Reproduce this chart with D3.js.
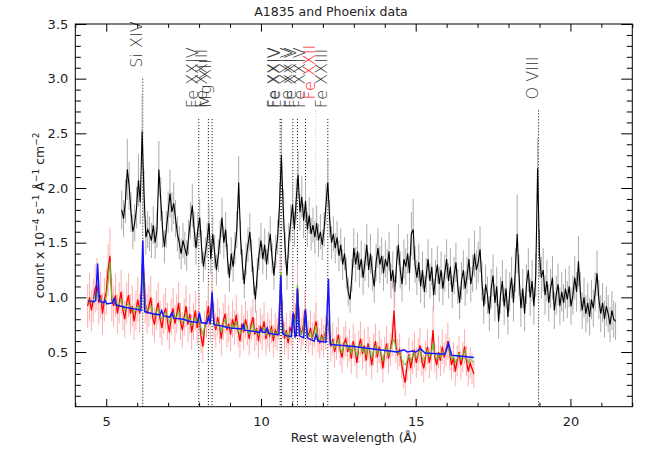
<!DOCTYPE html>
<html lang="en">
<head>
<meta charset="UTF-8">
<title>A1835 and Phoenix data</title>
<script src="https://cdn.jsdelivr.net/npm/d3@7"></script>
<style>
    body { margin: 0; background: #fff; }
    svg text { font-family: "DejaVu Sans", "Liberation Sans", sans-serif; }
</style>
</head>
<body>
<svg width="654" height="455"></svg>
<script>
// black spectrum: bins of blackStep starting at blackStart (Angstrom)
var blackStart = 5.50, blackStep = 0.06;
var blackFlux = [
1.80,1.72,1.88,2.17,2.02,1.78,1.60,1.68,1.82,2.07,
1.87,2.52,1.95,1.55,1.62,1.58,1.52,1.66,1.50,1.62,
2.17,1.90,1.62,1.46,1.62,1.78,1.95,1.78,1.86,1.72,
1.58,1.50,1.40,1.52,1.45,1.38,1.55,1.70,1.84,1.62,
1.45,1.62,1.73,1.46,1.28,1.40,1.52,1.68,1.35,1.58,
1.42,1.25,1.38,1.55,1.73,1.50,1.62,1.35,1.18,1.40,
1.28,1.45,1.62,2.05,1.55,1.30,1.12,1.35,1.48,1.60,
1.38,1.15,0.98,1.22,1.40,1.52,1.35,1.48,1.30,1.45,
1.58,1.36,1.20,1.42,1.55,1.85,2.30,1.80,1.45,1.20,
1.52,1.68,1.85,1.62,1.90,2.12,1.78,1.92,1.70,1.88,
1.62,1.75,1.58,1.66,1.55,1.68,1.52,1.60,1.48,1.62,
1.85,2.05,1.72,1.50,1.58,1.45,1.55,1.38,1.48,1.30,
1.40,1.22,1.05,0.98,1.20,1.45,1.30,1.42,1.25,1.35,
1.18,1.32,1.48,1.25,1.40,1.22,1.10,1.32,1.45,1.30,
1.38,1.22,1.35,1.28,1.42,1.15,1.25,1.05,1.30,1.48,
1.25,1.12,1.35,1.28,1.40,1.22,1.58,1.62,1.30,1.18,
1.32,1.10,1.25,1.05,1.20,1.35,1.15,1.28,1.02,1.18,
1.30,1.12,1.25,1.08,1.22,1.35,1.15,1.28,1.05,1.20,
1.32,1.10,0.95,1.15,1.25,1.08,1.20,1.35,1.12,1.22,
1.40,1.25,1.32,1.44,1.15,0.92,1.12,1.02,0.85,1.08,
1.20,0.95,1.10,0.78,1.02,1.15,0.92,1.08,0.82,1.05,
1.18,0.95,1.25,1.58,1.20,0.90,1.08,0.85,1.12,1.25,
1.00,1.15,0.92,1.20,2.18,1.40,1.18,1.25,1.02,1.15,
0.95,1.08,1.18,0.88,1.02,1.12,0.92,1.05,0.95,1.08,
0.98,1.10,0.92,1.02,1.18,1.05,1.33,1.05,0.88,1.00,
0.85,0.95,0.82,0.98,0.90,1.05,1.22,0.98,0.85,0.95,
0.80,0.92,0.85,0.75,0.88,0.80,0.78];
var blackErr = [
.18,.17,.20,.28,.22,.18,.16,.17,.19,.24,
.20,.34,.22,.16,.17,.16,.16,.17,.15,.17,
.26,.20,.17,.15,.17,.19,.22,.18,.19,.17,
.16,.15,.14,.16,.15,.14,.16,.17,.20,.16,
.15,.16,.17,.15,.14,.15,.16,.17,.14,.16,
.15,.14,.15,.16,.18,.15,.16,.14,.13,.15,
.14,.15,.17,.24,.16,.14,.13,.15,.16,.17,
.15,.13,.12,.14,.15,.16,.14,.15,.14,.15,
.16,.14,.13,.15,.16,.20,.27,.19,.15,.13,
.16,.17,.19,.16,.19,.22,.17,.19,.16,.18,
.16,.17,.15,.16,.15,.16,.15,.16,.14,.16,
.19,.22,.17,.15,.16,.14,.15,.14,.15,.14,
.15,.14,.13,.12,.15,.18,.16,.17,.16,.17,
.16,.17,.19,.16,.18,.16,.15,.17,.18,.17,
.17,.16,.17,.16,.18,.16,.17,.15,.17,.19,
.17,.16,.18,.17,.18,.16,.20,.28,.17,.16,
.17,.15,.17,.15,.16,.18,.16,.17,.15,.16,
.17,.16,.17,.15,.17,.18,.16,.17,.15,.17,
.18,.16,.15,.17,.18,.16,.17,.19,.16,.17,
.21,.18,.19,.21,.18,.16,.18,.17,.16,.18,
.19,.17,.18,.16,.17,.19,.17,.18,.16,.18,
.19,.17,.20,.36,.19,.17,.18,.16,.18,.20,
.17,.19,.17,.20,.28,.22,.19,.20,.18,.19,
.17,.18,.20,.17,.18,.19,.17,.18,.17,.18,
.17,.19,.17,.18,.20,.18,.23,.18,.17,.18,
.17,.18,.17,.18,.17,.18,.21,.18,.17,.18,
.17,.18,.17,.16,.18,.17,.17];

// red spectrum and its green model, same bins
var redStart = 4.40, redStep = 0.06;
var redFlux = [
0.92,1.00,0.88,0.97,1.08,1.12,0.95,1.02,0.85,0.98,
1.05,1.25,1.38,0.98,0.92,1.02,0.85,0.95,1.05,0.88,
0.80,0.95,1.02,0.85,0.92,0.78,0.88,0.98,0.85,1.10,
1.30,0.95,0.85,0.92,1.00,0.82,0.75,0.88,0.95,0.80,
0.72,0.85,0.90,0.78,0.68,0.82,0.90,0.76,0.85,0.95,
0.78,0.70,0.82,0.92,0.75,0.85,0.68,0.78,0.88,0.72,
0.85,0.65,0.55,0.72,0.80,0.92,0.75,1.02,0.78,0.70,
0.82,0.74,0.62,0.78,0.85,0.70,0.76,0.66,0.80,0.72,
0.84,0.70,0.60,0.76,0.68,0.80,0.72,0.62,0.75,0.82,
0.66,0.72,0.60,0.74,0.68,0.78,0.62,0.70,0.65,0.74,
0.60,0.70,0.66,0.78,1.16,0.80,0.62,0.70,0.58,0.72,
0.68,0.85,0.78,1.10,0.75,0.66,0.72,0.88,0.70,0.64,
0.72,0.62,0.70,0.78,0.64,0.58,0.66,0.60,0.68,0.80,
0.70,0.55,0.62,0.50,0.58,0.66,0.52,0.45,0.58,0.62,
0.50,0.56,0.44,0.60,0.52,0.40,0.55,0.62,0.48,0.56,
0.42,0.58,0.50,0.38,0.52,0.60,0.45,0.55,0.48,0.35,
0.50,0.58,0.44,0.52,0.62,0.88,0.55,0.48,0.52,0.40,
0.30,0.22,0.38,0.48,0.35,0.45,0.52,0.40,0.48,0.56,
0.42,0.35,0.46,0.55,0.40,0.48,0.70,0.45,0.38,0.50,
0.42,0.55,0.45,0.52,0.60,0.48,0.38,0.45,0.32,0.42,
0.50,0.38,0.45,0.55,0.42,0.32,0.40,0.35,0.30];
var redErr = [
.20,.22,.19,.20,.22,.24,.20,.21,.19,.20,
.21,.24,.26,.20,.19,.20,.18,.19,.20,.18,
.17,.19,.20,.18,.19,.17,.18,.20,.18,.21,
.24,.19,.18,.19,.20,.17,.16,.18,.19,.17,
.16,.18,.19,.17,.16,.17,.19,.17,.18,.19,
.17,.16,.17,.19,.16,.18,.16,.17,.18,.16,
.18,.16,.15,.16,.17,.19,.16,.21,.17,.16,
.17,.16,.15,.17,.18,.16,.17,.15,.17,.16,
.18,.16,.15,.17,.16,.17,.16,.15,.16,.17,
.15,.16,.15,.16,.16,.17,.15,.16,.15,.16,
.15,.16,.15,.17,.24,.17,.15,.16,.15,.16,
.16,.18,.17,.22,.16,.15,.16,.18,.16,.15,
.16,.15,.16,.17,.15,.14,.15,.15,.16,.18,
.16,.14,.15,.14,.15,.16,.14,.14,.15,.16,
.14,.15,.14,.16,.15,.14,.15,.16,.14,.15,
.14,.15,.14,.13,.15,.16,.14,.15,.14,.13,
.14,.16,.14,.15,.16,.26,.15,.14,.15,.14,
.13,.12,.14,.15,.14,.15,.16,.14,.15,.16,
.14,.13,.14,.16,.14,.15,.22,.14,.13,.15,
.14,.16,.14,.15,.17,.15,.13,.14,.13,.14,
.15,.13,.14,.16,.14,.13,.14,.14,.13];
var greenModel = [
0.96,0.98,0.95,0.97,1.02,1.05,0.98,0.99,0.93,0.96,
1.00,1.15,1.32,1.00,0.95,0.97,0.92,0.94,0.98,0.92,
0.88,0.92,0.95,0.90,0.91,0.86,0.89,0.93,0.88,1.00,
1.25,0.92,0.87,0.89,0.93,0.86,0.82,0.86,0.90,0.84,
0.80,0.84,0.87,0.82,0.77,0.81,0.86,0.80,0.82,0.88,
0.80,0.76,0.80,0.85,0.78,0.81,0.74,0.77,0.82,0.76,
0.82,0.72,0.66,0.73,0.77,0.85,0.76,0.98,0.77,0.73,
0.78,0.74,0.68,0.75,0.80,0.72,0.74,0.70,0.76,0.72,
0.78,0.71,0.66,0.73,0.70,0.76,0.71,0.66,0.72,0.76,
0.68,0.71,0.65,0.71,0.68,0.73,0.65,0.69,0.66,0.71,
0.64,0.68,0.66,0.74,1.22,0.76,0.65,0.68,0.62,0.69,
0.67,0.82,0.76,1.12,0.72,0.66,0.70,0.85,0.68,0.64,
0.69,0.63,0.67,0.74,0.64,0.60,0.64,0.61,0.66,0.82,
0.70,0.57,0.60,0.53,0.57,0.62,0.54,0.49,0.56,0.59,
0.52,0.55,0.48,0.57,0.53,0.46,0.54,0.58,0.50,0.54,
0.47,0.55,0.51,0.44,0.51,0.56,0.48,0.53,0.49,0.42,
0.50,0.55,0.47,0.51,0.57,0.62,0.53,0.49,0.50,0.44,
0.40,0.38,0.42,0.47,0.42,0.46,0.50,0.44,0.48,0.53,
0.46,0.42,0.47,0.52,0.45,0.48,0.58,0.47,0.43,0.48,
0.45,0.51,0.47,0.52,0.58,0.50,0.43,0.46,0.40,0.44,
0.49,0.43,0.46,0.52,0.45,0.40,0.44,0.42,0.40];

// blue model curve
var blueWave = [4.42,4.60,4.66,4.72,4.78,4.90,4.96,5.02,5.20,5.26,
    5.32,5.60,6.00,6.12,6.18,6.24,6.50,6.73,6.79,6.85,
    7.05,7.12,7.18,7.50,7.70,7.95,8.01,8.07,8.25,8.30,
    8.36,8.42,8.48,8.70,9.00,9.38,9.43,9.48,9.95,10.00,
    10.05,10.15,10.20,10.25,10.50,10.58,10.64,10.70,10.80,10.98,
    11.04,11.10,11.14,11.18,11.24,11.38,11.44,11.50,11.72,11.78,
    11.84,12.10,12.18,12.24,13.00,14.40,14.62,14.74,14.90,15.00,
    15.16,15.30,15.95,16.06,16.16,16.88];
var blueModel = [0.97,0.96,0.97,1.31,0.97,0.95,0.97,0.94,0.95,0.99,
    0.93,0.91,0.89,0.88,1.52,0.87,0.85,0.84,0.88,0.83,
    0.82,0.86,0.81,0.80,0.78,0.77,0.86,0.77,0.76,0.82,
    0.76,1.05,0.75,0.74,0.72,0.71,0.75,0.70,0.68,0.71,
    0.68,0.68,0.72,0.67,0.66,0.66,1.20,0.67,0.65,0.64,
    0.86,0.64,0.65,1.08,0.65,0.63,0.89,0.63,0.60,0.66,
    0.60,0.59,1.17,0.57,0.55,0.50,0.52,0.50,0.51,0.50,
    0.53,0.49,0.48,0.58,0.47,0.45];

// emission lines
var lineWave = [6.18, 7.99, 8.30, 8.42, 10.62, 10.66, 11.03, 11.18, 11.44, 11.77, 12.16, 18.97];
var lineName = ["Si XIV", "Fe XXIV", "Fe XXIII", "Mg XII", "Fe XXIV", "Fe XXIV", "Fe XXIV",
    "Fe XXIV", "Fe XXIV", "Fe XXII", "Fe XXIII", "O VIII"];
var lineTop = [3.00, 2.63, 2.63, 2.63, 2.63, 2.63, 2.63, 2.63, 2.63, 2.71, 2.63, 2.71];
var coolLine = "Fe XXII";

var xMajor = [5, 10, 15, 20];
var xMinor = [4, 6, 7, 8, 9, 11, 12, 13, 14, 16, 17, 18, 19, 21, 22];
var yMajor = [0.5, 1.0, 1.5, 2.0, 2.5, 3.0, 3.5];
var yMinor = [0.1, 0.2, 0.3, 0.4, 0.6, 0.7, 0.8, 0.9, 1.1, 1.2, 1.3, 1.4, 1.6, 1.7, 1.8, 1.9,
    2.1, 2.2, 2.3, 2.4, 2.6, 2.7, 2.8, 2.9, 3.1, 3.2, 3.3, 3.4];

var svg = d3.select("svg");
var padL = 75.3, padR = 632.3, padT = 24, padB = 406.7;
var x = d3.scaleLinear().domain([4, 22]).range([padL, padR]);
var y = d3.scaleLinear().domain([0, 3.5]).range([padB, padT]);

var black = blackFlux.map(function (v, i) { return [blackStart + i * blackStep, v, blackErr[i]]; });
var red = redFlux.map(function (v, i) { return [redStart + i * redStep, v, redErr[i]]; });
var green = greenModel.map(function (v, i) { return [redStart + i * redStep, v]; });
var blue = blueModel.map(function (v, i) { return [blueWave[i], v]; });

var line = d3.line().x(function (d) { return x(d[0]); }).y(function (d) { return y(d[1]); });

function errorBars(data, color) {
    svg.append("g").selectAll("line").data(data).enter().append("line")
        .attr("x1", function (d) { return x(d[0]); })
        .attr("x2", function (d) { return x(d[0]); })
        .attr("y1", function (d) { return y(d[1] - d[2]); })
        .attr("y2", function (d) { return y(d[1] + d[2]); })
        .attr("stroke", color).attr("stroke-width", 1);
}

// dotted marker lines
svg.append("g").selectAll("line").data(lineWave).enter().append("line")
    .attr("x1", function (d) { return x(d); })
    .attr("x2", function (d) { return x(d); })
    .attr("y1", function (d, i) { return y(lineTop[i]); })
    .attr("y2", padB)
    .attr("stroke", function (d, i) { return lineName[i] === coolLine ? "#ffaaaa" : "#000"; })
    .attr("stroke-width", 1)
    .attr("stroke-dasharray", "1,2");

errorBars(black, "#ababab");
svg.append("path").datum(black).attr("d", line)
    .attr("fill", "none").attr("stroke", "#000").attr("stroke-width", 1.1);

errorBars(red, "#ffadad");
svg.append("path").datum(red).attr("d", line)
    .attr("fill", "none").attr("stroke", "#ff0000").attr("stroke-width", 1.3);
svg.append("path").datum(green).attr("d", line)
    .attr("fill", "none").attr("stroke", "#55cc33").attr("stroke-width", 1);
svg.append("path").datum(blue).attr("d", line)
    .attr("fill", "none").attr("stroke", "#1414ff").attr("stroke-width", 1.5);

// labels of the lines
svg.append("g").selectAll("text").data(lineWave).enter().append("text")
    .attr("transform", function (d, i) {
        return "translate(" + (x(d) - 1) + "," + (y(lineTop[i]) - 11) + ") rotate(-90)";
    })
    .attr("font-size", 16)
    .attr("font-weight", 200)
    .attr("fill", function (d, i) { return lineName[i] === coolLine ? "#ff2020" : "#333"; })
    .text(function (d, i) { return lineName[i]; });

// axes, IDL style box with inward ticks
function clean(g) {
    g.select(".domain").remove();
    g.attr("font-family", null).attr("font-size", 13);
    g.selectAll("text").attr("fill", "#222");
}
svg.append("g").attr("transform", "translate(0," + padB + ")")
    .call(d3.axisBottom(x).tickValues(xMajor).tickSize(-7.7).tickPadding(10).tickFormat(d3.format("d"))).call(clean);
svg.append("g").attr("transform", "translate(0," + padB + ")")
    .call(d3.axisBottom(x).tickValues(xMinor).tickSize(-3.9).tickFormat("")).call(clean);
svg.append("g").attr("transform", "translate(0," + padT + ")")
    .call(d3.axisTop(x).tickValues(xMajor).tickSize(-7.7).tickFormat("")).call(clean);
svg.append("g").attr("transform", "translate(0," + padT + ")")
    .call(d3.axisTop(x).tickValues(xMinor).tickSize(-3.9).tickFormat("")).call(clean);
svg.append("g").attr("transform", "translate(" + padL + ",0)")
    .call(d3.axisLeft(y).tickValues(yMajor).tickSize(-11.1).tickPadding(7).tickFormat(d3.format(".1f"))).call(clean);
svg.append("g").attr("transform", "translate(" + padL + ",0)")
    .call(d3.axisLeft(y).tickValues(yMinor).tickSize(-5.5).tickFormat("")).call(clean);
svg.append("g").attr("transform", "translate(" + padR + ",0)")
    .call(d3.axisRight(y).tickValues(yMajor).tickSize(-11.1).tickFormat("")).call(clean);
svg.append("g").attr("transform", "translate(" + padR + ",0)")
    .call(d3.axisRight(y).tickValues(yMinor).tickSize(-5.5).tickFormat("")).call(clean);
svg.append("rect").attr("x", padL).attr("y", padT)
    .attr("width", padR - padL).attr("height", padB - padT)
    .attr("fill", "none").attr("stroke", "#000").attr("stroke-width", 1);

svg.append("text").attr("x", 331).attr("y", 16).attr("text-anchor", "middle")
    .attr("font-size", 12.5).attr("fill", "#222").text("A1835 and Phoenix data");
svg.append("text").attr("x", (padL + padR) / 2).attr("y", 442).attr("text-anchor", "middle")
    .attr("font-size", 12.5).attr("fill", "#222").text("Rest wavelength (Å)");

var yl = svg.append("text").attr("transform", "translate(44," + ((padT + padB) / 2) + ") rotate(-90)")
    .attr("text-anchor", "middle").attr("font-size", 12.5).attr("fill", "#222");
var yParts = [["count x 10", 0], ["\u22124", 1], [" s", 0], ["\u22121", 1], [" Å", 0], ["\u22121", 1], [" cm", 0], ["\u22122", 1]];
var shift = 0;
yParts.forEach(function (p) {
    var dy = p[1] ? -5 - shift : -shift;
    shift = p[1] ? -5 : 0;
    yl.append("tspan").attr("dy", dy).attr("font-size", p[1] ? 9 : 12.5).text(p[0]);
});
</script>
</body>
</html>
